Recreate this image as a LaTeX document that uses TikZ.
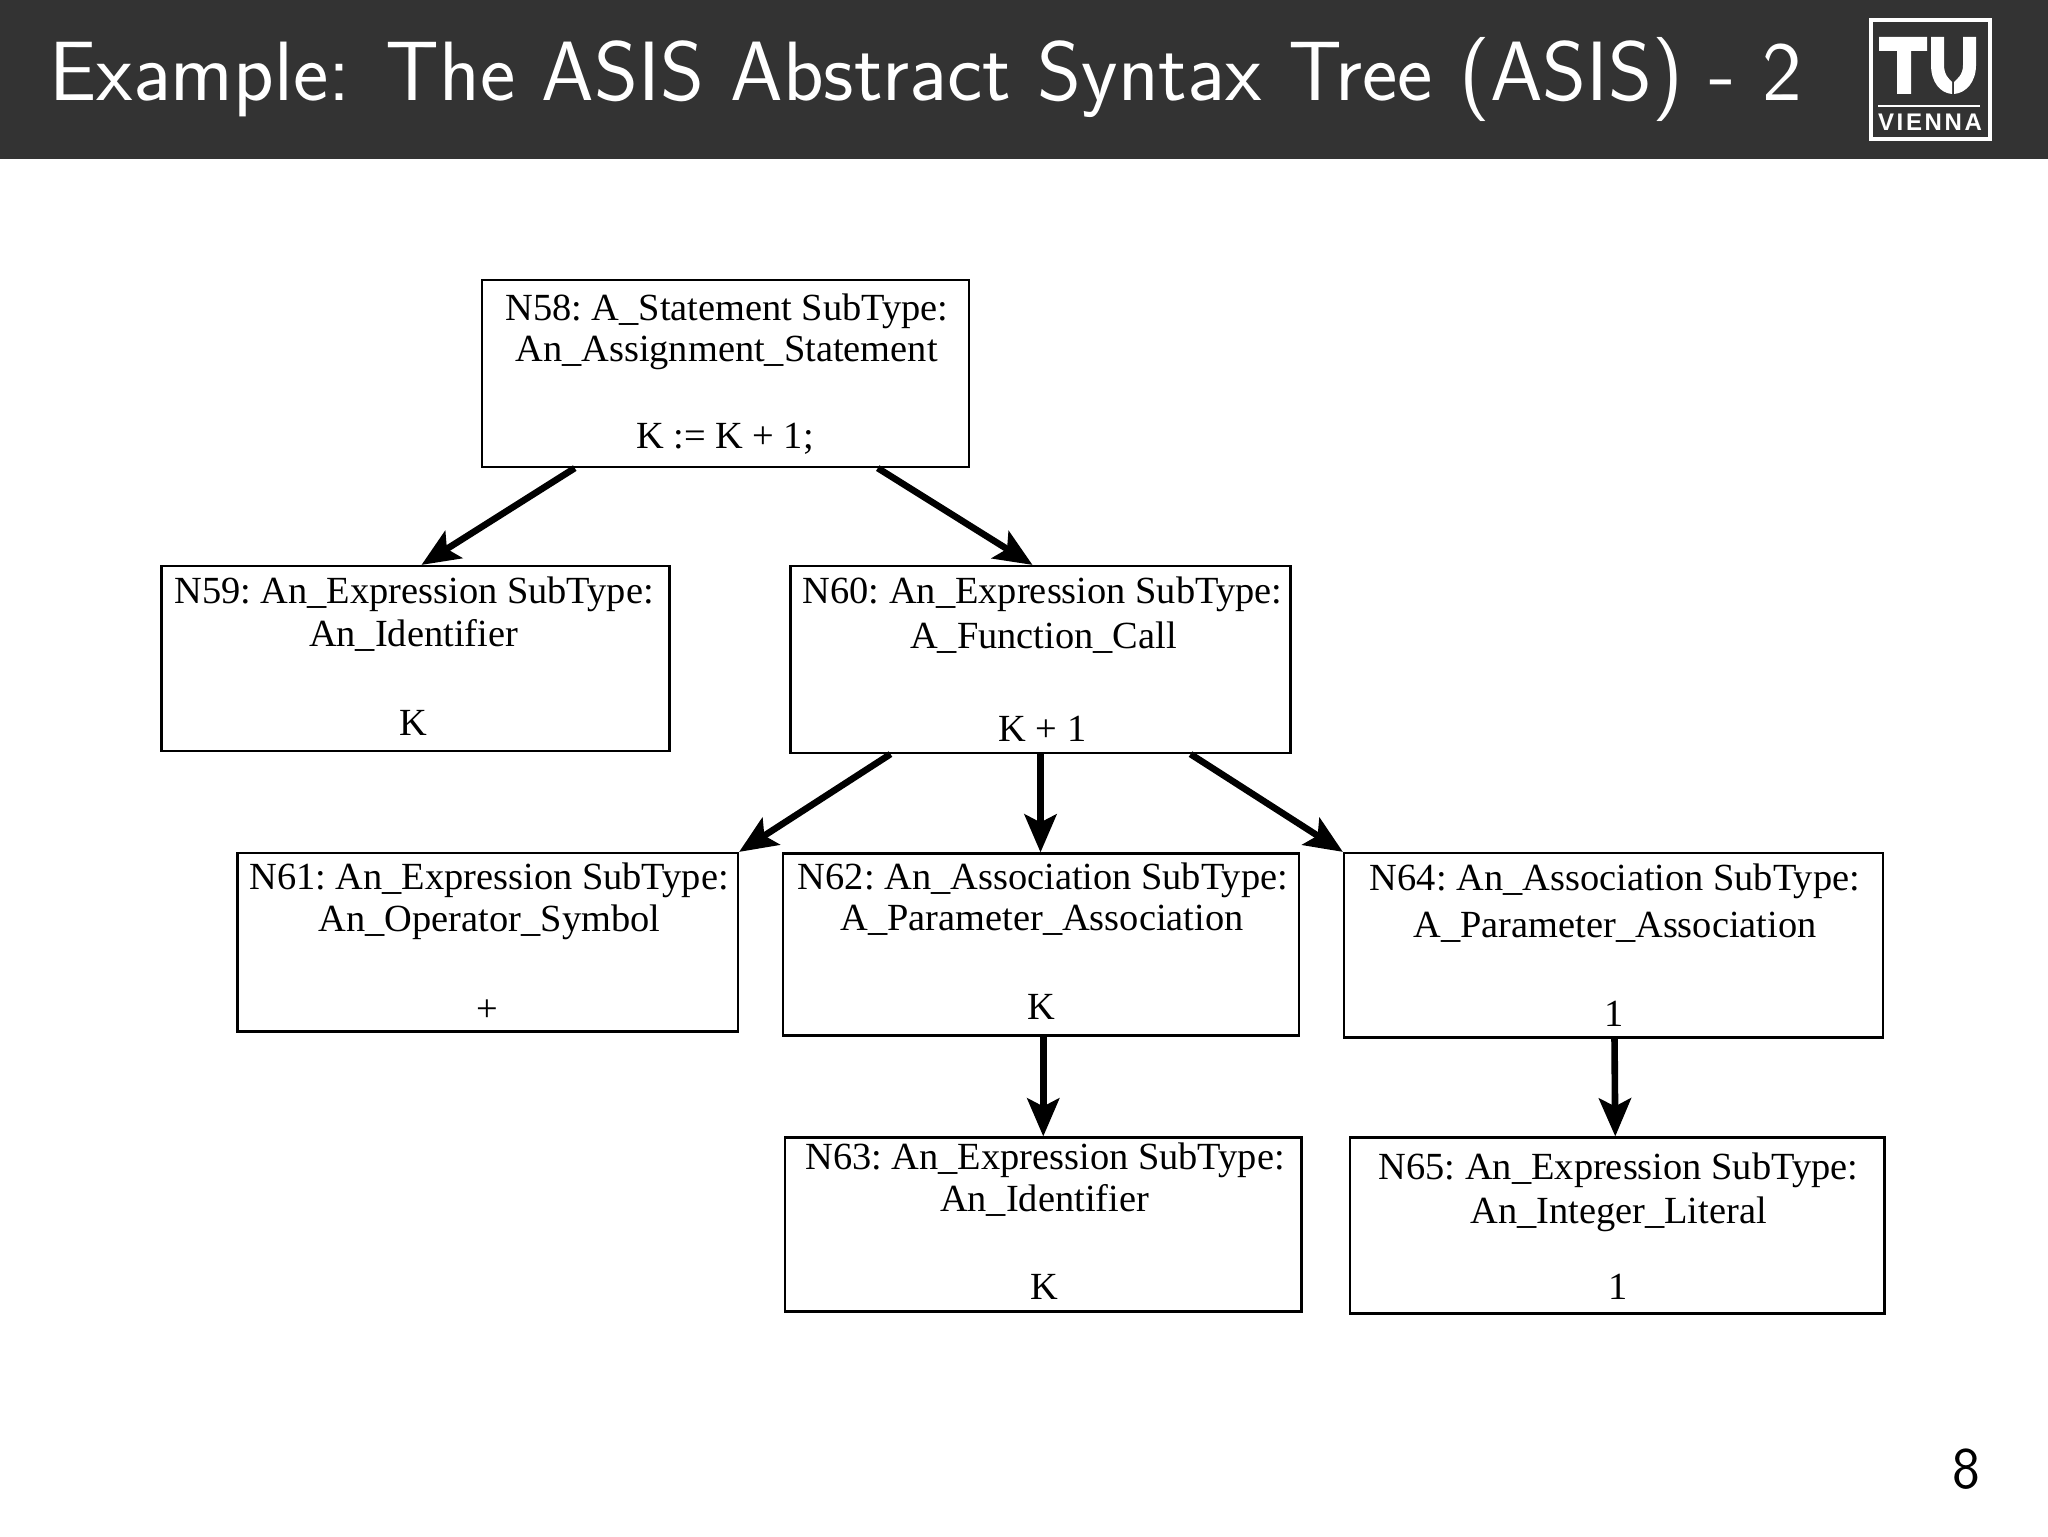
\documentclass[tikz,border=0pt]{standalone}
\usepackage{fontspec}
\setmainfont{Liberation Serif}
\newfontfamily\logofont[LetterSpace=11]{Liberation Sans}
\usetikzlibrary{positioning,arrows.meta}
\definecolor{headgray}{HTML}{333333}

\begin{document}
\begin{tikzpicture}[%
    x=0.5pt, y=-0.5pt,
    treebox/.style 2 args={
        draw,
        line width=1.1pt,
        inner sep=0pt,
        minimum width=#1,
        minimum height=#2
        },
    treetext/.style={
        inner sep=0pt,
        anchor=base,
        font=\fontsize{19.2}{22}\selectfont\frenchspacing
        },
    treearrow/.style={
        line width=3.3pt,
        -{Stealth[length=19pt,width=16pt,inset=4pt]}
        },
    logopart/.style={fill=white, draw=none}
]
\useasboundingbox (0,0) rectangle (2048,1536);

% header
\fill[headgray] (0,0) rectangle (2048,159);
\node[anchor=base west, inner sep=0pt, text=white, font=\sffamily\fontsize{42.1}{48}\selectfont] (title) at (49,100)
    {Example: The ASIS Abstract Syntax Tree (ASIS) - 2};

% logo
\draw[white, line width=1.8pt] (1871,20) rectangle (1990,139);
\fill[logopart] (1879,37) -- (1927,37) -- (1927,51) -- (1911,51) -- (1911,94) -- (1897,94) -- (1897,51) -- (1879,51) -- cycle;
\fill[logopart] (1931,37) -- (1944,37) -- (1944,65) .. controls (1944,75) and (1949,79) .. (1952,82) -- (1952,94)
    .. controls (1940,93) and (1931,82) .. (1931,65) -- cycle;
\fill[logopart] (1976,37) -- (1963,37) -- (1963,65) .. controls (1963,75) and (1957,79) .. (1954,82) -- (1954,94)
    .. controls (1966,93) and (1976,82) .. (1976,65) -- cycle;
\fill[logopart] (1878,105) rectangle (1980,107);
\node[anchor=base, inner sep=0pt, text=white, font=\logofont\bfseries\fontsize{12}{14}\selectfont] (vienna) at (1930,131) {VIENNA};

% boxes
\node[treebox={243.5pt}{93.5pt}] (n58) at (725.75,373.5) {};
\node[treebox={254pt}{92.5pt}] (n59) at (415.5,658.5) {};
\node[treebox={250pt}{93.5pt}] (n60) at (1040.5,659.5) {};
\node[treebox={250.25pt}{89.25pt}] (n61) at (487.75,942.25) {};
\node[treebox={258pt}{91pt}] (n62) at (1041,944.5) {};
\node[treebox={269.5pt}{92.25pt}] (n64) at (1613.5,945.25) {};
\node[treebox={258.25pt}{87pt}] (n63) at (1043.25,1224.5) {};
\node[treebox={267.25pt}{88pt}] (n65) at (1617.25,1225.5) {};

% box texts
\node[treetext] (n58a) at (727,320.5) {N58: A\_Statement SubType:};
\node[treetext] (n58b) at (726.5,361.5) {An\_Assignment\_Statement};
\node[treetext] (n58c) at (725,448) {K := K + 1;};

\node[treetext] (n59a) at (414,603) {N59: An\_Expression SubType:};
\node[treetext] (n59b) at (413.5,646.5) {An\_Identifier};
\node[treetext] (n59c) at (413,735) {K};

\node[treetext] (n60a) at (1042.5,603) {N60: An\_Expression SubType:};
\node[treetext] (n60b) at (1043.5,648) {A\_Function\_Call};
\node[treetext] (n60c) at (1042.5,741) {K + 1};

\node[treetext] (n61a) at (489,889) {N61: An\_Expression SubType:};
\node[treetext] (n61b) at (489.5,931) {An\_Operator\_Symbol};
\node[treetext] (n61c) at (487.5,1021) {+};

\node[treetext] (n62a) at (1043,889) {N62: An\_Association SubType:};
\node[treetext] (n62b) at (1042,930) {A\_Parameter\_Association};
\node[treetext] (n62c) at (1041,1019) {K};

\node[treetext] (n64a) at (1615,890) {N64: An\_Association SubType:};
\node[treetext] (n64b) at (1615,937) {A\_Parameter\_Association};
\node[treetext] (n64c) at (1614,1026) {1};

\node[treetext] (n63a) at (1045,1169.5) {N63: An\_Expression SubType:};
\node[treetext] (n63b) at (1044.5,1211) {An\_Identifier};
\node[treetext] (n63c) at (1044,1299.5) {K};

\node[treetext] (n65a) at (1618.5,1179.5) {N65: An\_Expression SubType:};
\node[treetext] (n65b) at (1618.5,1223.5) {An\_Integer\_Literal};
\node[treetext] (n65c) at (1618.5,1299.5) {1};

% arrows
\draw[treearrow] ([xshift=-75.5pt]n58.south) -- ([xshift=3pt]n59.north);
\draw[treearrow] ([xshift=76pt]n58.south) -- ([xshift=-4pt]n60.north);
\draw[treearrow] ([xshift=-75pt]n60.south) -- (n61.north east);
\draw[treearrow] (n60.south) -- (n60.south |- n62.north);
\draw[treearrow] ([xshift=75pt]n60.south) -- (n64.north west);
\draw[treearrow] (n63.north |- n62.south) -- (n63.north);
\draw[treearrow] ([xshift=0.5pt]n64.south) -- ([xshift=-1pt]n65.north);

% page number
\node[anchor=base, inner sep=0pt, font=\sffamily\fontsize{29.5}{34}\selectfont] (pagenum) at (1966.7,1488.5) {8};
\end{tikzpicture}
\end{document}
